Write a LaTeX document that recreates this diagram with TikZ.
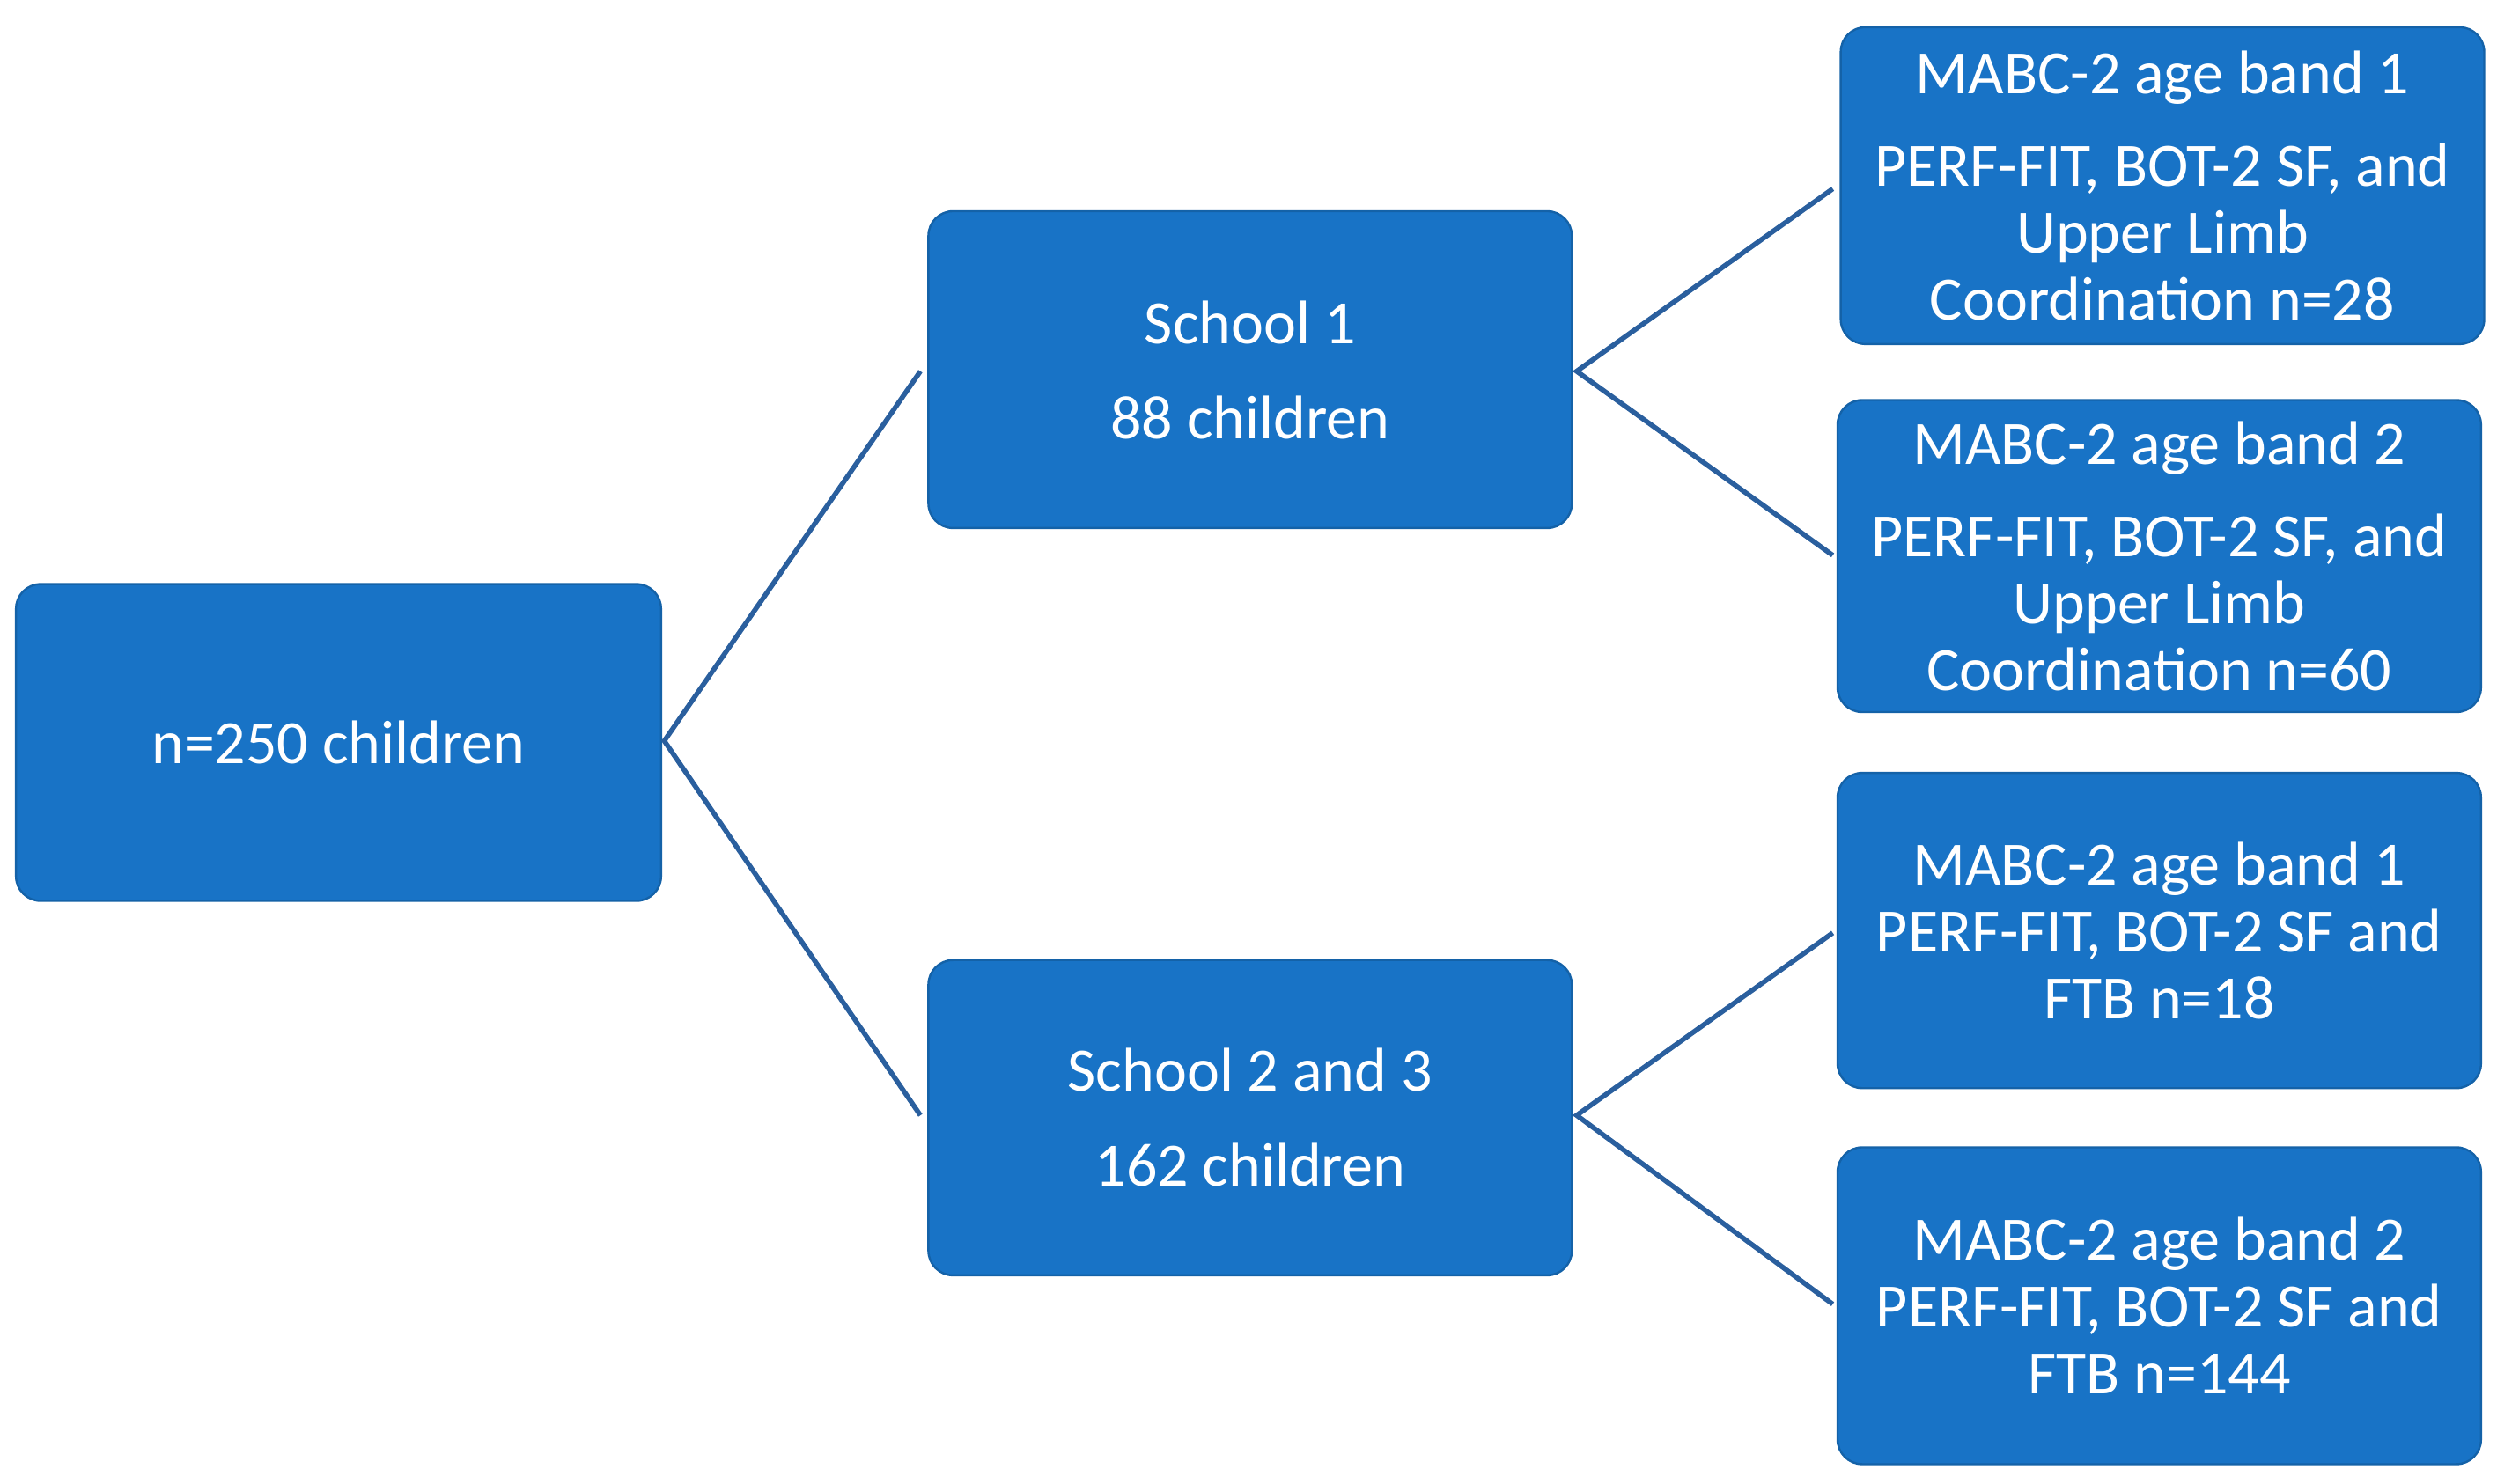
\documentclass[tikz,border=0pt]{standalone}
\usepackage{fontspec}
\setmainfont{Carlito}
\begin{document}
\begin{tikzpicture}[x=0.4545pt,y=-0.4545pt,
  box/.style={fill=boxblue,draw=boxblue!85!black,line width=0.6pt,rounded corners=7pt,text=white,align=center,inner sep=0pt,font=\fontsize{17.5}{19}\selectfont},
  link/.style={draw=linkblue,line width=1.4pt}]
\definecolor{boxblue}{HTML}{1873C6}
\definecolor{linkblue}{HTML}{2A5F9E}
\useasboundingbox (0,0) rectangle (1560,927.4);
\node[box,minimum width=403*0.4545pt,minimum height=198*0.4545pt] (root) at (211.5,464) {n=250 children};
\node[box,minimum width=402*0.4545pt,minimum height=198*0.4545pt] (s1) at (781,231) {School 1\\[8pt]88 children};
\node[box,minimum width=402*0.4545pt,minimum height=197*0.4545pt] (s2) at (781,698.5) {School 2 and 3\\[8pt]162 children};
\node[box,minimum width=402*0.4545pt,minimum height=198*0.4545pt] (a1) at (1351,116) {MABC-2 age band 1\\[7.4pt]PERF-FIT, BOT-2 SF, and\\Upper Limb\\Coordination n=28};
\node[box,minimum width=402*0.4545pt,minimum height=195*0.4545pt] (a2) at (1349,347.5) {MABC-2 age band 2\\[7.4pt]PERF-FIT, BOT-2 SF, and\\Upper Limb\\Coordination n=60};
\node[box,minimum width=402*0.4545pt,minimum height=197*0.4545pt] (a3) at (1349,581.5) {MABC-2 age band 1\\PERF-FIT, BOT-2 SF and\\FTB n=18};
\node[box,minimum width=402*0.4545pt,minimum height=198*0.4545pt] (a4) at (1349,816) {MABC-2 age band 2\\PERF-FIT, BOT-2 SF and\\FTB n=144};
\coordinate (r0) at (415,463);
\coordinate (s1l) at (575,232); \coordinate (s2l) at (575,697);
\coordinate (s1r) at (985,232); \coordinate (s2r) at (985,697);
\coordinate (a1l) at (1145,118); \coordinate (a2l) at (1145,347);
\coordinate (a3l) at (1145,583); \coordinate (a4l) at (1145,815);
\draw[link] (s1l) -- (r0) -- (s2l);
\draw[link] (a1l) -- (s1r) -- (a2l);
\draw[link] (a3l) -- (s2r) -- (a4l);
\end{tikzpicture}
\end{document}
